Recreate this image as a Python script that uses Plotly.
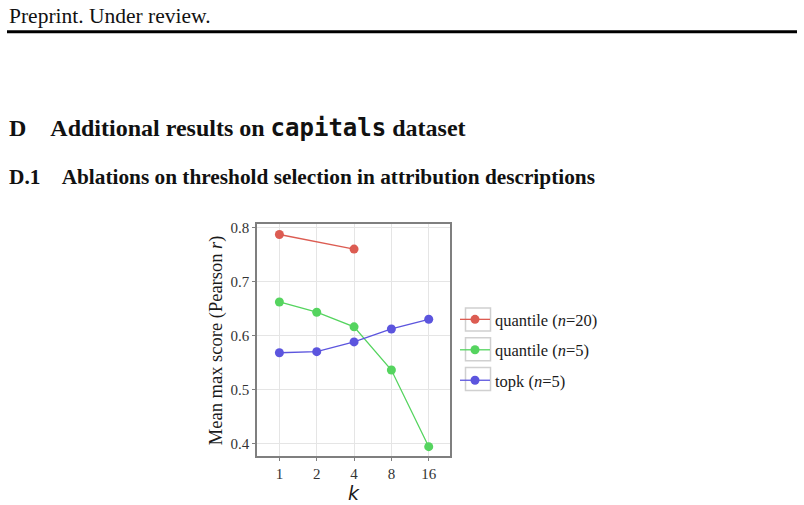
import plotly.graph_objects as go

k_labels = ["1", "2", "4", "8", "16"]
series_names = ["quantile (<i>n</i>=20)", "quantile (<i>n</i>=5)", "topk (<i>n</i>=5)"]
q20_k = ["1", "4"]
q20_vals = [0.787, 0.760]
q5_vals = [0.662, 0.643, 0.616, 0.536, 0.394]
topk_vals = [0.568, 0.570, 0.588, 0.612, 0.630]
y_ticks = [0.4, 0.5, 0.6, 0.7, 0.8]

colors = ["#dc5c52", "#55d45f", "#5c55de"]
W, H = 804, 505
serif = "Liberation Serif"
dy = -2  # vertical correction

def py(v):
    return 1 - (v + dy) / H

fig = go.Figure()
data = [(q20_k, q20_vals), (k_labels, q5_vals), (k_labels, topk_vals)]
for i, ((xs, ys), name) in enumerate(zip(data, series_names)):
    fig.add_trace(go.Scatter(
        x=xs, y=ys, mode="lines+markers", name=name, legendgroup=f"g{i}",
        line=dict(color=colors[i], width=1.3),
        marker=dict(color=colors[i], size=9),
    ))

x0, x1, yt, yb = 257, 450, 224, 458
fig.update_layout(
    width=W, height=H, margin=dict(l=0, r=0, t=0, b=0),
    paper_bgcolor="white", plot_bgcolor="white",
    font=dict(family=serif, color="#1a1a1a"),
    xaxis=dict(domain=[x0 / W, x1 / W], type="category", categoryorder="array",
               categoryarray=k_labels, range=[-0.6, 4.57],
               showgrid=True, gridcolor="#e5e5e5", gridwidth=1.3,
               showline=True, linecolor="#7f7f7f", linewidth=1.5, mirror=True,
               ticks="outside", ticklen=3, tickcolor="#7f7f7f",
               tickfont=dict(size=15, family=serif, color="#333"),
               title=dict(text="<i>k</i>", font=dict(size=19, family="DejaVu Sans"), standoff=0),
               zeroline=False),
    yaxis=dict(domain=[py(yb), py(yt)], range=[0.376, 0.806],
               tickvals=y_ticks, ticktext=["0.4", "0.5", "0.6", "0.7", "0.8"],
               showgrid=True, gridcolor="#e5e5e5", gridwidth=1.3,
               showline=True, linecolor="#7f7f7f", linewidth=1.5, mirror=True,
               ticks="outside", ticklen=3, tickcolor="#7f7f7f",
               tickfont=dict(size=15, family=serif, color="#333"),
               title=dict(text="Mean max score (Pearson <i>r</i>)", font=dict(size=18.5, family=serif),
                          standoff=3),
               zeroline=False),
    legend=dict(x=455 / W, y=py(302.5), xanchor="left", yanchor="top",
                font=dict(size=16.5, family=serif, color="#1a1a1a"),
                tracegroupgap=6, itemwidth=30, bgcolor="rgba(0,0,0,0)"),
    showlegend=True,
)

# page header and rule
fig.add_annotation(x=7 / W, y=py(14), xref="paper", yref="paper", xanchor="left",
                   yanchor="middle", showarrow=False, text="Preprint. Under review.",
                   font=dict(size=21.5, family=serif, color="#111"))
fig.add_shape(type="line", xref="paper", yref="paper", x0=7 / W, x1=797 / W,
              y0=py(30), y1=py(30), line=dict(color="black", width=3))
fig.add_annotation(x=7 / W, y=py(127), xref="paper", yref="paper", xanchor="left",
                   yanchor="middle", showarrow=False,
                   text="<b>D&nbsp;&nbsp;&nbsp;&nbsp;Additional results on <span style='font-family:DejaVu Sans Mono'>capitals</span> dataset</b>",
                   font=dict(size=24, family=serif, color="#111"))
fig.add_annotation(x=7 / W, y=py(176), xref="paper", yref="paper", xanchor="left",
                   yanchor="middle", showarrow=False,
                   text="<b>D.1&nbsp;&nbsp;&nbsp;&nbsp;Ablations on threshold selection in attribution descriptions</b>",
                   font=dict(size=21.3, family=serif, color="#111"))

# legend key boxes
for cy in [320, 350, 380]:
    fig.add_shape(type="rect", xref="paper", yref="paper", x0=465.5 / W, x1=490.5 / W,
                  y0=py(cy - 11.5), y1=py(cy + 11.5),
                  line=dict(color="#d0d0d0", width=1.5), fillcolor="rgba(0,0,0,0)")

fig.write_html("out.html")
